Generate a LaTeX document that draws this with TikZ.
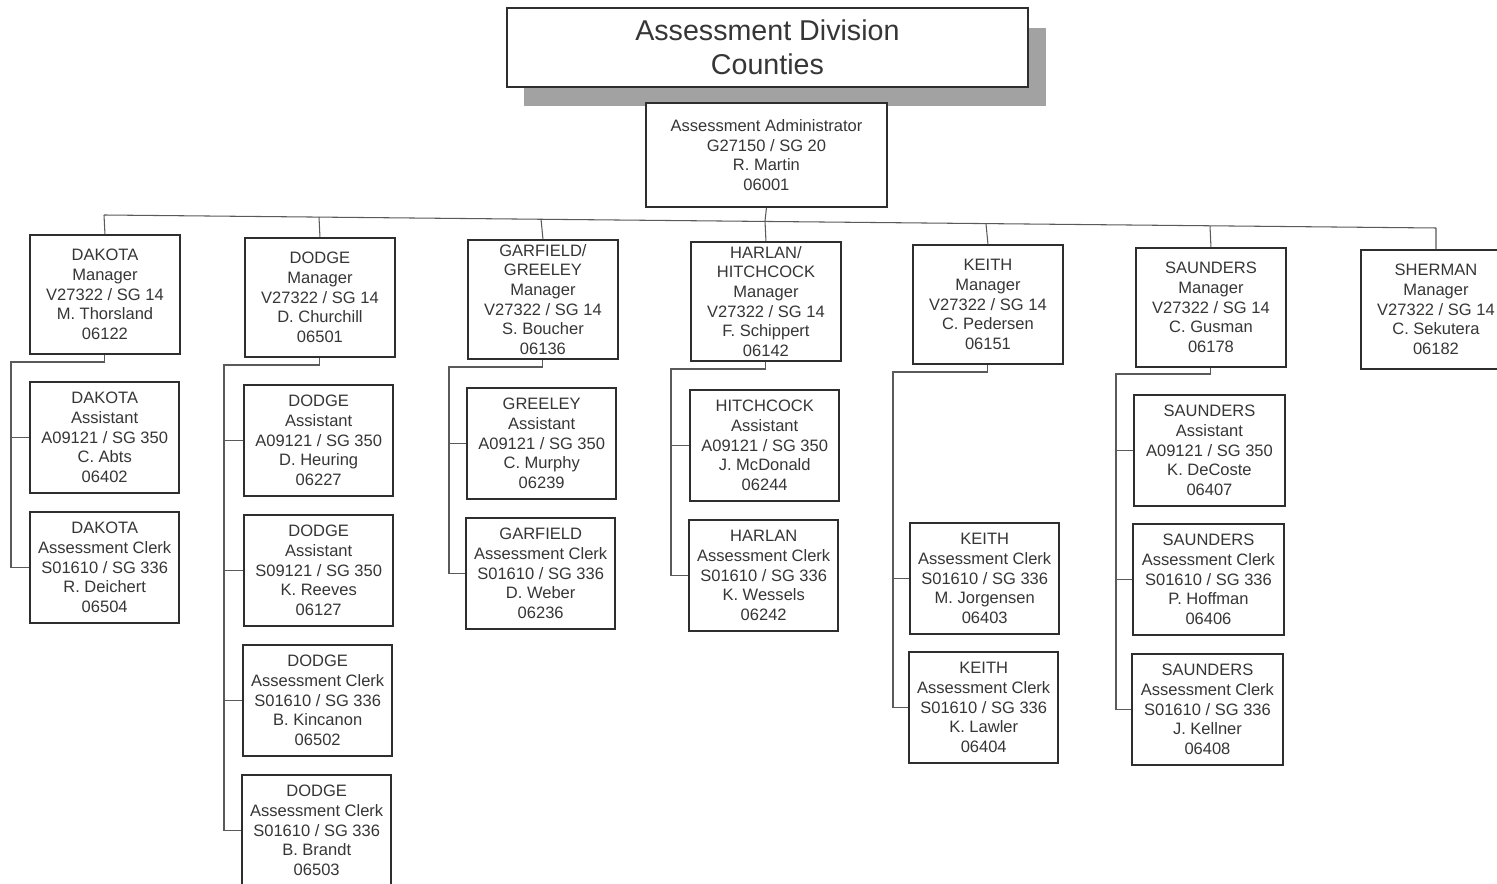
\documentclass[tikz,border=0pt]{standalone}
\usepackage{fontspec}
\setmainfont{Liberation Sans}
\definecolor{ink}{HTML}{363636}
\definecolor{frame}{HTML}{2E2E2E}
\definecolor{wire}{HTML}{5A5A5A}
\definecolor{shade}{HTML}{A2A2A2}
\begin{document}
\begin{tikzpicture}[x=0.02cm,y=-0.02cm,
  card/.style={draw=frame, line width=1.1pt, fill=white, anchor=north west,
    align=center, text=ink, inner sep=0pt, font=\fontsize{9.4}{11.2}\selectfont},
  mgr/.style={card, minimum width=3cm, minimum height=2.38cm},
  sub/.style={card, minimum width=2.99cm, minimum height=2.22cm},
  link/.style={draw=wire, line width=0.6pt}]
\useasboundingbox (0,0) rectangle (1497,884);
\fill[white] (0,0) rectangle (1497,884);

% title block with its drop shadow
\node[fill=shade, anchor=north west, minimum width=10.44cm, minimum height=1.56cm, inner sep=0pt] (shadow) at (524,28) {};
\node[card, minimum width=10.42cm, minimum height=1.58cm, font=\fontsize{16.3}{19.3}\selectfont] (title) at (506,7) {Assessment Division\\Counties};

% administrator
\node[card, minimum width=4.82cm, minimum height=2.08cm] (admin) at (645,102)
  {Assessment Administrator\\G27150 / SG 20\\R. Martin\\06001};

% county managers
\node[mgr] (dak) at (29,234) {DAKOTA\\Manager\\V27322 / SG 14\\M. Thorsland\\06122};
\node[mgr] (dod) at (244,237) {DODGE\\Manager\\V27322 / SG 14\\D. Churchill\\06501};
\node[mgr] (gar) at (467,239) {GARFIELD/\\GREELEY\\Manager\\V27322 / SG 14\\S. Boucher\\06136};
\node[mgr] (har) at (690,241) {HARLAN/\\HITCHCOCK\\Manager\\V27322 / SG 14\\F. Schippert\\06142};
\node[mgr] (kei) at (912,244) {KEITH\\Manager\\V27322 / SG 14\\C. Pedersen\\06151};
\node[mgr] (sau) at (1135,247) {SAUNDERS\\Manager\\V27322 / SG 14\\C. Gusman\\06178};
\node[mgr] (she) at (1360,249) {SHERMAN\\Manager\\V27322 / SG 14\\C. Sekutera\\06182};

% staff
\node[sub] (daka) at (29,381) {DAKOTA\\Assistant\\A09121 / SG 350\\C. Abts\\06402};
\node[sub] (dakc) at (29,511) {DAKOTA\\Assessment Clerk\\S01610 / SG 336\\R. Deichert\\06504};

\node[sub] (doda) at (243,384) {DODGE\\Assistant\\A09121 / SG 350\\D. Heuring\\06227};
\node[sub] (dodb) at (243,514) {DODGE\\Assistant\\S09121 / SG 350\\K. Reeves\\06127};
\node[sub] (dodc) at (242,644) {DODGE\\Assessment Clerk\\S01610 / SG 336\\B. Kincanon\\06502};
\node[sub] (dodd) at (241,774) {DODGE\\Assessment Clerk\\S01610 / SG 336\\B. Brandt\\06503};

\node[sub] (gara) at (466,387) {GREELEY\\Assistant\\A09121 / SG 350\\C. Murphy\\06239};
\node[sub] (garc) at (465,517) {GARFIELD\\Assessment Clerk\\S01610 / SG 336\\D. Weber\\06236};

\node[sub] (hara) at (689,389) {HITCHCOCK\\Assistant\\A09121 / SG 350\\J. McDonald\\06244};
\node[sub] (harc) at (688,519) {HARLAN\\Assessment Clerk\\S01610 / SG 336\\K. Wessels\\06242};

\node[sub] (keia) at (909,522) {KEITH\\Assessment Clerk\\S01610 / SG 336\\M. Jorgensen\\06403};
\node[sub] (keib) at (908,651) {KEITH\\Assessment Clerk\\S01610 / SG 336\\K. Lawler\\06404};

\node[sub, minimum width=3.02cm] (saua) at (1133,394) {SAUNDERS\\Assistant\\A09121 / SG 350\\K. DeCoste\\06407};
\node[sub, minimum width=3.02cm] (saub) at (1132,523) {SAUNDERS\\Assessment Clerk\\S01610 / SG 336\\P. Hoffman\\06406};
\node[sub, minimum width=3.02cm] (sauc) at (1131,653) {SAUNDERS\\Assessment Clerk\\S01610 / SG 336\\J. Kellner\\06408};

% bus from the administrator to the managers
\coordinate (tdak) at (104,215);
\coordinate (tdod) at (319,217);
\coordinate (tgar) at (541,219);
\coordinate (tadm) at (765,221);
\coordinate (tkei) at (986,224);
\coordinate (tsau) at (1210,226);
\coordinate (tshe) at (1436,228);
\draw[link] (tdak) -- (tshe);
\draw[link] (admin.south) -- (tadm);
\draw[link] (tdak) -- (dak.north);
\draw[link] (tdod) -- (dod.north);
\draw[link] (tgar) -- (gar.north);
\draw[link] (tadm) -- (har.north);
\draw[link] (tkei) -- (kei.north);
\draw[link] (tsau) -- (sau.north);
\draw[link] (tshe) -- (she.north);

% spines from each manager to the staff
\coordinate (jdak) at (11,362);
\coordinate (jdod) at (224,365);
\coordinate (jgar) at (449,367);
\coordinate (jhar) at (671,369);
\coordinate (jkei) at (893,372);
\coordinate (jsau) at (1116,374);

\draw[link] (dak.south) |- (jdak) |- (daka.west);
\draw[link] (jdak) |- (dakc.west);

\draw[link] (dod.south) |- (jdod) |- (doda.west);
\draw[link] (jdod) |- (dodb.west);
\draw[link] (jdod) |- (dodc.west);
\draw[link] (jdod) |- (dodd.west);

\draw[link] (gar.south) |- (jgar) |- (gara.west);
\draw[link] (jgar) |- (garc.west);

\draw[link] (har.south) |- (jhar) |- (hara.west);
\draw[link] (jhar) |- (harc.west);

\draw[link] (kei.south) |- (jkei) |- (keia.west);
\draw[link] (jkei) |- (keib.west);

\draw[link] (sau.south) |- (jsau) |- (saua.west);
\draw[link] (jsau) |- (saub.west);
\draw[link] (jsau) |- (sauc.west);
\end{tikzpicture}
\end{document}
